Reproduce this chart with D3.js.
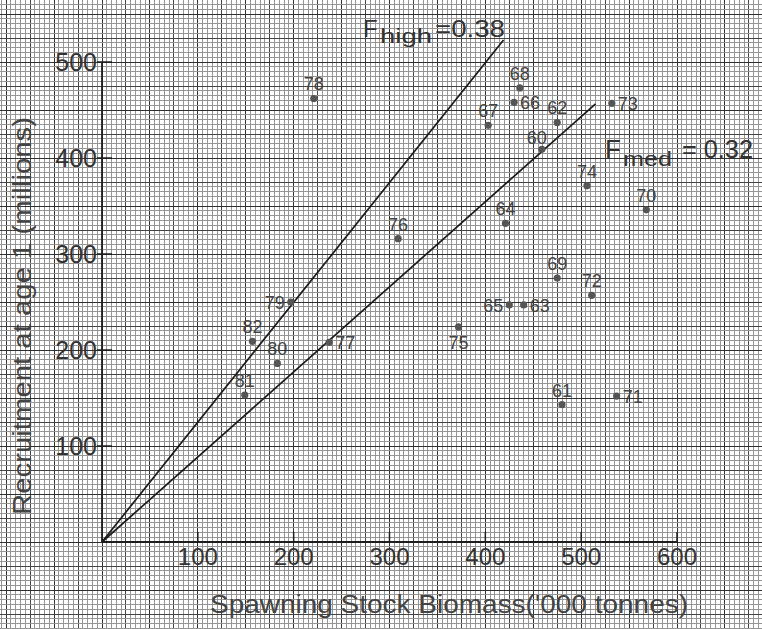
<!DOCTYPE html>
<html><head><meta charset="utf-8">
<script src="https://cdn.jsdelivr.net/npm/d3@7"></script>
<style>
html,body{margin:0;padding:0;background:#fff;}
svg{display:block;}
text{font-family:"Liberation Sans",Arial,sans-serif;}
</style></head>
<body>
<svg id="chart" width="762" height="629"></svg>
<script>
// ---- data ----
const years    = ["60","61","62","63","64","65","66","67","68","69","70","71","72","73","74","75","76","77","78","79","80","81","82"];
const ssb      = [459, 480, 475, 440, 421, 425, 430, 403, 436, 475, 568, 537, 511, 532, 506, 372, 309, 237, 221, 197, 183, 149, 157];
const recruits = [409, 143, 437, 247, 332, 247, 458, 434, 473, 275, 346, 152, 257, 457, 371, 224, 316, 208, 462, 250, 186, 153, 209];
const labelSide= ["aboveleft","above","above","right","above","left","right","above","above","above","above","right","above","right","above","below","above","right","above","left","above","above","above"];
const xTicks = [100, 200, 300, 400, 500, 600];
const yTicks = [100, 200, 300, 400, 500];
const lineNames  = ["Fhigh", "Fmed"];
const lineSlopes = [1.248, 0.886];   // recruits per unit SSB
const lineEndSSB = [419, 515];
const xTitle = "Spawning  Stock  Biomass('000 tonnes)";
const yTitle = "Recruitment  at  age 1  (millions)";

// ---- scales ----
const svg = d3.select("#chart");
const x = d3.scaleLinear().domain([0, 600]).range([102, 677]);
const y = d3.scaleLinear().domain([0, 500]).range([542, 62]);

// ---- graph paper grid ----
const grid = svg.append("g").attr("shape-rendering", "crispEdges");
d3.range(-110, 700, 5).forEach(v => {
  const px = x(v);
  if (px < -2 || px > 764) return;
  const lvl = v % 50 === 0 ? 2 : (v % 25 === 0 ? 1 : 0);
  grid.append("line").attr("x1", px).attr("x2", px).attr("y1", 0).attr("y2", 629)
    .attr("stroke", lvl === 2 ? "#303030" : lvl === 1 ? "#444" : "#959595")
    .attr("stroke-width", 1);
});
d3.range(-100, 580, 5).forEach(v => {
  const py = y(v);
  if (py < -2 || py > 631) return;
  const lvl = v % 50 === 0 ? 2 : (v % 25 === 0 ? 1 : 0);
  grid.append("line").attr("y1", py).attr("y2", py).attr("x1", 0).attr("x2", 762)
    .attr("stroke", lvl === 2 ? "#303030" : lvl === 1 ? "#444" : "#959595")
    .attr("stroke-width", 1);
});

// ---- axes ----
const ax = svg.append("g").attr("stroke", "#1e1e1e").attr("stroke-width", 1.8);
ax.append("line").attr("x1", x(0)).attr("x2", x(600)).attr("y1", y(0)).attr("y2", y(0));
ax.append("line").attr("x1", x(0)).attr("x2", x(0)).attr("y1", y(0)).attr("y2", y(500));
xTicks.forEach(t => {
  ax.append("line").attr("x1", x(t)).attr("x2", x(t)).attr("y1", y(0)).attr("y2", y(0) - 10).attr("stroke-width", 1.5);
});
yTicks.forEach(t => {
  ax.append("line").attr("x1", x(0) - 5).attr("x2", x(0) + 10).attr("y1", y(t)).attr("y2", y(t)).attr("stroke-width", 1.5);
});
svg.append("g").selectAll("text").data(xTicks).join("text")
  .attr("x", d => x(d)).attr("y", y(0) + 23).attr("text-anchor", "middle")
  .attr("font-size", 24).attr("fill", "#333").text(d => d);
svg.append("g").selectAll("text").data(yTicks).join("text")
  .attr("x", x(0) - 5).attr("y", d => y(d) + 9).attr("text-anchor", "end")
  .attr("font-size", 25).attr("fill", "#333").text(d => d);

// axis titles
svg.append("text").attr("x", 210).attr("y", 613).attr("font-size", 25).attr("fill", "#444")
  .attr("textLength", 478).attr("lengthAdjust", "spacingAndGlyphs").text(xTitle);
svg.append("text").attr("transform", "translate(31,316) rotate(-90)").attr("text-anchor", "middle")
  .attr("font-size", 25).attr("fill", "#444")
  .attr("textLength", 398).attr("lengthAdjust", "spacingAndGlyphs").text(yTitle);

// ---- F lines ----
const lineGen = d3.line().x(d => x(d[0])).y(d => y(d[1]));
lineNames.forEach((n, i) => {
  svg.append("path").attr("d", lineGen([[0, 0], [lineEndSSB[i], lineEndSSB[i] * lineSlopes[i]]]))
    .attr("fill", "none").attr("stroke", "#1a1a1a").attr("stroke-width", 1.7);
});

// line labels
const fh = svg.append("g").attr("fill", "#333");
fh.append("text").attr("x", 363).attr("y", 37).attr("font-size", 24).text("F");
fh.append("text").attr("x", 380).attr("y", 43).attr("font-size", 21).attr("textLength", 52).attr("lengthAdjust", "spacingAndGlyphs").text("high");
fh.append("text").attr("x", 435).attr("y", 37).attr("font-size", 24).attr("textLength", 70).attr("lengthAdjust", "spacingAndGlyphs").text("=0.38");
const fm = svg.append("g").attr("fill", "#333");
fm.append("text").attr("x", 605).attr("y", 158).attr("font-size", 26).text("F");
fm.append("text").attr("x", 623).attr("y", 166).attr("font-size", 21).attr("textLength", 49).attr("lengthAdjust", "spacingAndGlyphs").text("med");
fm.append("text").attr("x", 682).attr("y", 158).attr("font-size", 26).attr("textLength", 71).attr("lengthAdjust", "spacingAndGlyphs").text("= 0.32");

// ---- points ----
const pts = years.map((yr, i) => ({yr, s: ssb[i], r: recruits[i], side: labelSide[i]}));
svg.append("g").selectAll("circle").data(pts).join("circle")
  .attr("cx", d => x(d.s)).attr("cy", d => y(d.r)).attr("r", 3.6).attr("fill", "#555");

const off = {
  above:     {dx: 0,   dy: -8, anchor: "middle"},
  aboveleft: {dx: -5,  dy: -5, anchor: "middle"},
  right:     {dx: 6,   dy: 7,  anchor: "start"},
  left:      {dx: -6,  dy: 7,  anchor: "end"},
  below:     {dx: 0,   dy: 22, anchor: "middle"}
};
svg.append("g").selectAll("text").data(pts).join("text")
  .attr("x", d => x(d.s) + off[d.side].dx).attr("y", d => y(d.r) + off[d.side].dy)
  .attr("text-anchor", d => off[d.side].anchor)
  .attr("font-size", 18).attr("fill", "#444").text(d => d.yr);
</script>
</body></html>
